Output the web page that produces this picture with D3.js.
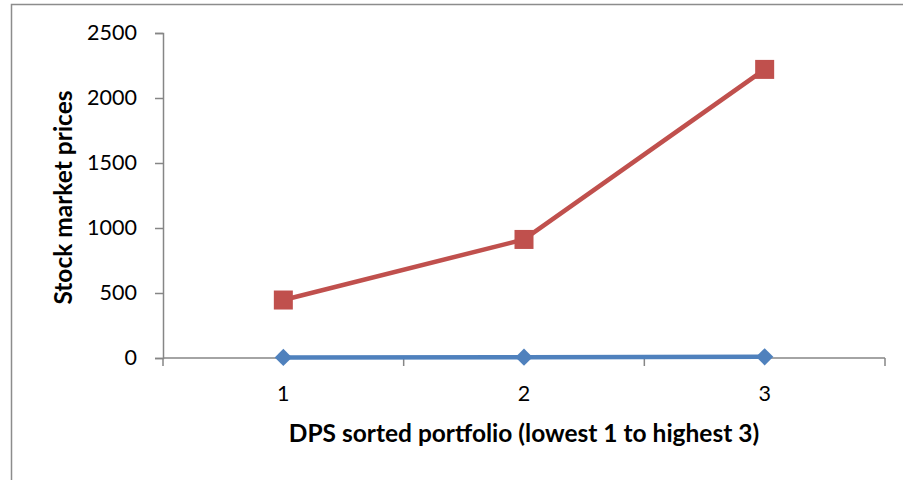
<!DOCTYPE html>
<html>
<head>
<meta charset="utf-8">
<script src="https://cdn.jsdelivr.net/npm/d3@7"></script>
<style>
  html, body { margin: 0; padding: 0; background: #fff; }
  svg { display: block; font-family: Lato, "Open Sans", sans-serif; }
</style>
</head>
<body>
<svg id="chart" width="903" height="480"></svg>
<script>
// Portfolio categories and the two series plotted against them
const categories = ["1", "2", "3"];
const priceSeries = [446, 912, 2220];
const lowSeries = [4, 6, 9];
const yTicks = [0, 500, 1000, 1500, 2000, 2500];
const xTitle = "DPS sorted portfolio (lowest 1 to highest 3)";
const yTitle = "Stock market prices";

const svg = d3.select("#chart");
const plot = { left: 163, right: 885, top: 33, bottom: 358 };

// Outer chart frame
svg.append("rect")
  .attr("x", 11.5).attr("y", 4.5)
  .attr("width", 903).attr("height", 490)
  .attr("fill", "none").attr("stroke", "#8c8c8c").attr("stroke-width", 1.5);

const x = d3.scaleBand().domain(categories).range([plot.left, plot.right]).paddingInner(0).paddingOuter(0);
const y = d3.scaleLinear().domain([0, 2500]).range([plot.bottom, plot.top]);
const cx = c => x(c) + x.bandwidth() / 2;

// Y axis
const yAxis = svg.append("g")
  .attr("transform", `translate(${plot.left},0)`)
  .call(d3.axisLeft(y).tickValues(yTicks).tickSize(8).tickPadding(18).tickFormat(d3.format("d")));
yAxis.select(".domain").attr("stroke", "#868686").attr("stroke-width", 1.5);
yAxis.selectAll(".tick line").attr("stroke", "#868686").attr("stroke-width", 1.5);
yAxis.selectAll(".tick text").attr("font-size", 21.5).attr("fill", "#000").attr("font-family", "Lato, sans-serif");

// X axis: boundary ticks between categories, labels centred in each band
const bounds = categories.map(c => x(c)).concat([plot.right]);
const xAxisG = svg.append("g");
xAxisG.append("line")
  .attr("x1", plot.left).attr("x2", plot.right)
  .attr("y1", y(0)).attr("y2", y(0))
  .attr("stroke", "#868686").attr("stroke-width", 1.5);
xAxisG.selectAll("line.tk").data(bounds).enter().append("line")
  .attr("class", "tk")
  .attr("x1", d => d).attr("x2", d => d)
  .attr("y1", y(0)).attr("y2", y(0) + 8)
  .attr("stroke", "#868686").attr("stroke-width", 1.5);
xAxisG.selectAll("text").data(categories).enter().append("text")
  .attr("x", d => cx(d)).attr("y", y(0) + 43)
  .attr("text-anchor", "middle").attr("font-size", 21.5).attr("fill", "#000")
  .text(d => d);

// Axis titles
svg.append("text")
  .attr("x", 524).attr("y", 442)
  .attr("text-anchor", "middle").attr("font-size", 24.5).attr("font-weight", "bold")
  .text(xTitle);
svg.append("text")
  .attr("transform", `translate(72,${(plot.top + plot.bottom) / 2 + 2}) rotate(-90)`)
  .attr("text-anchor", "middle").attr("font-size", 24.5).attr("font-weight", "bold")
  .text(yTitle);

const line = d3.line().x((d, i) => cx(categories[i])).y(d => y(d));

// Low series (blue, diamonds)
svg.append("path").datum(lowSeries)
  .attr("d", line).attr("fill", "none")
  .attr("stroke", "#4F81BD").attr("stroke-width", 4.5);
svg.selectAll("path.diamond").data(lowSeries).enter().append("path")
  .attr("class", "diamond")
  .attr("d", d3.symbol().type(d3.symbolDiamond2).size(190))
  .attr("transform", (d, i) => `translate(${cx(categories[i])},${y(d)})`)
  .attr("fill", "#4F81BD");

// Price series (red, squares)
svg.append("path").datum(priceSeries)
  .attr("d", line).attr("fill", "none")
  .attr("stroke", "#C0504D").attr("stroke-width", 4.5);
svg.selectAll("rect.sq").data(priceSeries).enter().append("rect")
  .attr("class", "sq")
  .attr("x", (d, i) => cx(categories[i]) - 9.5)
  .attr("y", d => y(d) - 9.5)
  .attr("width", 19).attr("height", 19)
  .attr("fill", "#C0504D");
</script>
</body>
</html>
